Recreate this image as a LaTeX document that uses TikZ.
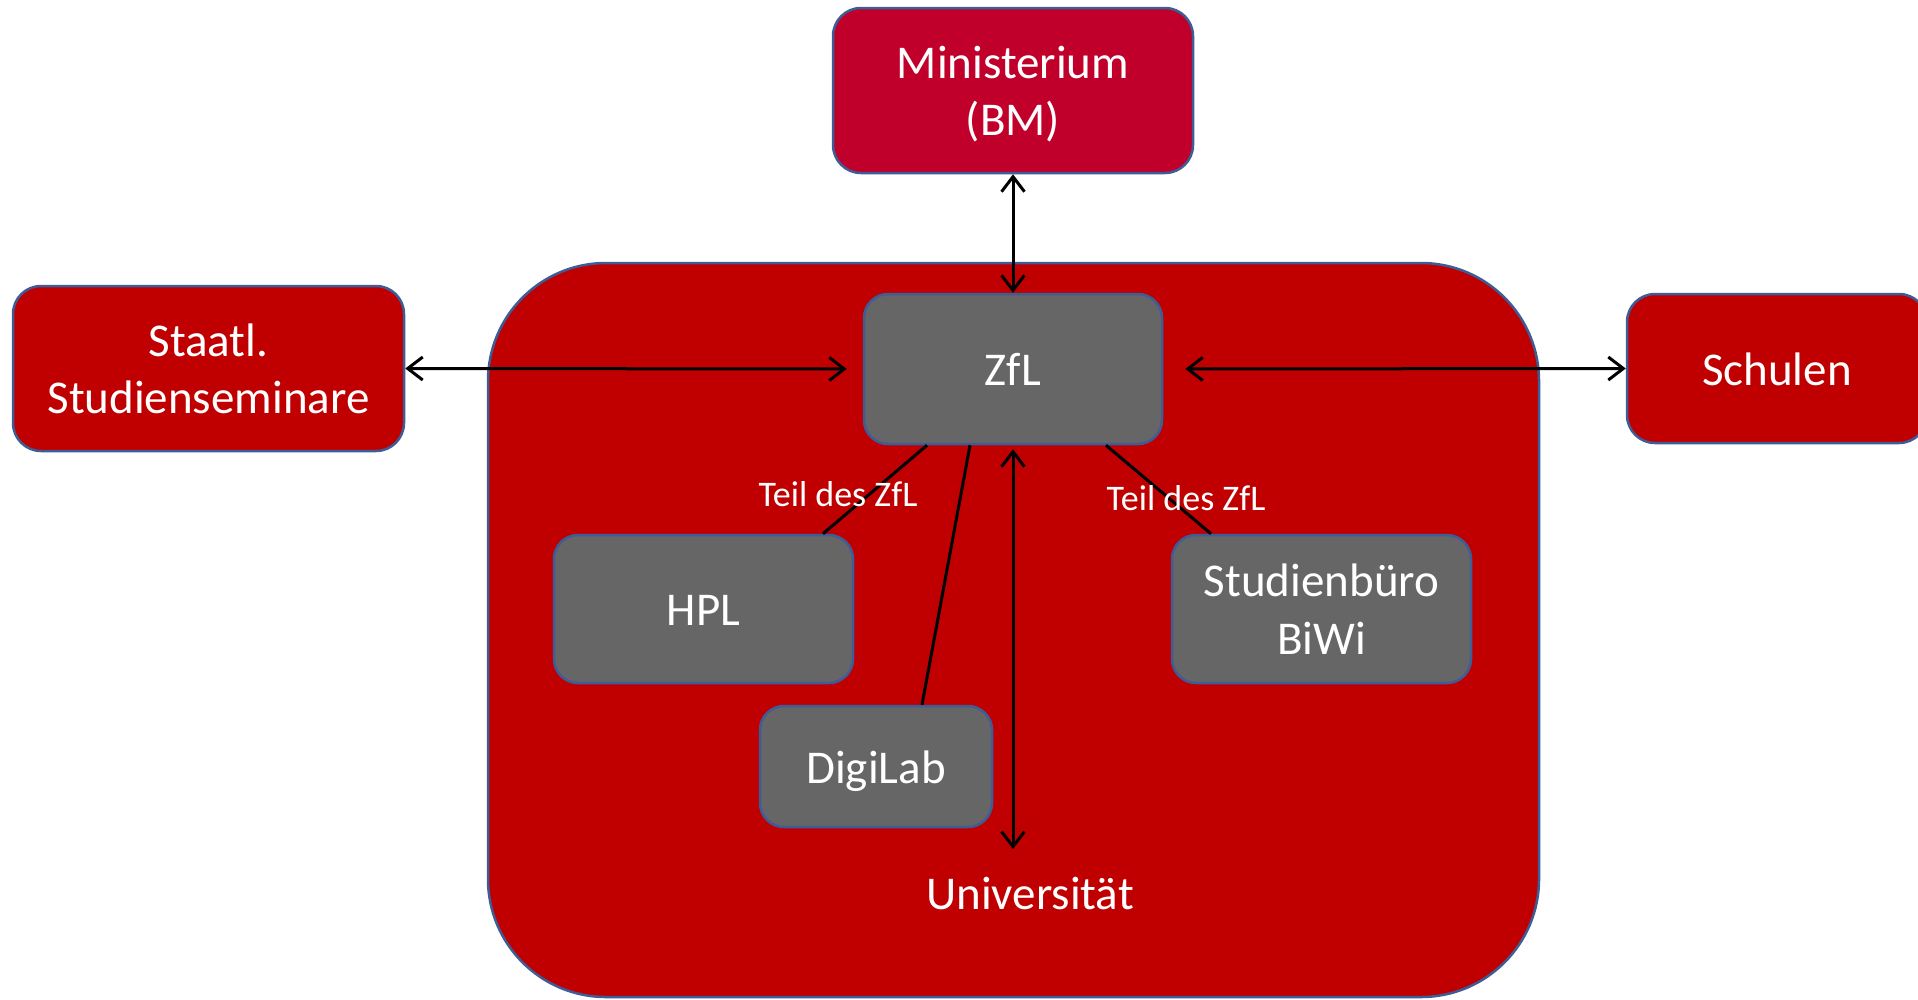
\documentclass[tikz,border=0pt]{standalone}
\usepackage{fontspec}
\setmainfont{Carlito}
\usetikzlibrary{arrows.meta}
\definecolor{boxred}{RGB}{192,0,0}
\definecolor{minired}{RGB}{192,0,42}
\definecolor{boxgray}{RGB}{102,102,102}
\definecolor{boxedge}{RGB}{62,92,150}
\tikzset{
  basebox/.style={draw=boxedge, line width=2.5pt, rounded corners=28pt, inner sep=0pt,
    text=white, align=center, font=\fontsize{47pt}{57.4pt}\selectfont,
    text height=38pt, text depth=5pt},
  twoline/.style={text height=95.4pt, text depth=5pt},
  redbox/.style={basebox, fill=boxred},
  minibox/.style={basebox, fill=minired},
  graybox/.style={basebox, fill=boxgray, rounded corners=24pt},
  bigbox/.style={draw=boxedge, line width=2.5pt, fill=boxred, rounded corners=118pt, inner sep=0pt},
  biarrow/.style={line width=3pt, {Straight Barb[length=15pt,width=23pt,line width=3pt]}-{Straight Barb[length=15pt,width=23pt,line width=3pt]}},
  plainline/.style={line width=3pt},
  smalllabel/.style={text=white, inner sep=0pt, font=\fontsize{36pt}{44pt}\selectfont},
  biglabel/.style={text=white, inner sep=0pt, font=\fontsize{47pt}{57.4pt}\selectfont}
}
\begin{document}
\begin{tikzpicture}[x=1pt,y=-1pt]
\useasboundingbox (0,0) rectangle (1918,999);
% big university box
\node[bigbox, minimum width=1051pt, minimum height=734pt] (uni) at (1013.5,630) {};
\node[biglabel] (unilabel) at (1030,893) {Universität};
% outer boxes
\node[minibox, twoline, minimum width=360pt, minimum height=165pt] (mini) at (1013,90.5) {Ministerium\\(BM)};
\node[redbox, twoline, minimum width=391pt, minimum height=165pt] (staatl) at (208.5,368.5) {Staatl.\\Studienseminare};
\node[redbox, minimum width=300pt, minimum height=149pt] (schulen) at (1777,368.5) {Schulen};
% inner gray boxes
\node[graybox, minimum width=298pt, minimum height=150pt] (zfl) at (1013,369) {ZfL};
\node[graybox, minimum width=299pt, minimum height=148pt] (hpl) at (703.5,609) {HPL};
\node[graybox, twoline, minimum width=299pt, minimum height=148pt] (stud) at (1321.5,609) {Studienbüro\\BiWi};
\node[graybox, minimum width=232pt, minimum height=121pt] (digi) at (876,766.5) {DigiLab};
% connectors
\draw[biarrow] (mini.south) -- (zfl.north);
\draw[biarrow, shorten >=16pt] (staatl.east) -- (zfl.west);
\draw[biarrow, shorten <=22pt] (zfl.east) -- (schulen.west);
\coordinate (uniend) at (1013,849);
\draw[biarrow, shorten <=4pt] (zfl.south) -- (uniend);
\draw[plainline] ([xshift=-86pt]zfl.south) -- ([xshift=119.5pt]hpl.north);
\draw[plainline] ([xshift=-43pt]zfl.south) -- ([xshift=46pt]digi.north);
\draw[plainline] ([xshift=93pt]zfl.south) -- ([xshift=-110.5pt]stud.north);
% labels
\node[smalllabel] (teilL) at (838,494) {Teil des ZfL};
\node[smalllabel] (teilR) at (1186,498) {Teil des ZfL};
\end{tikzpicture}
\end{document}
